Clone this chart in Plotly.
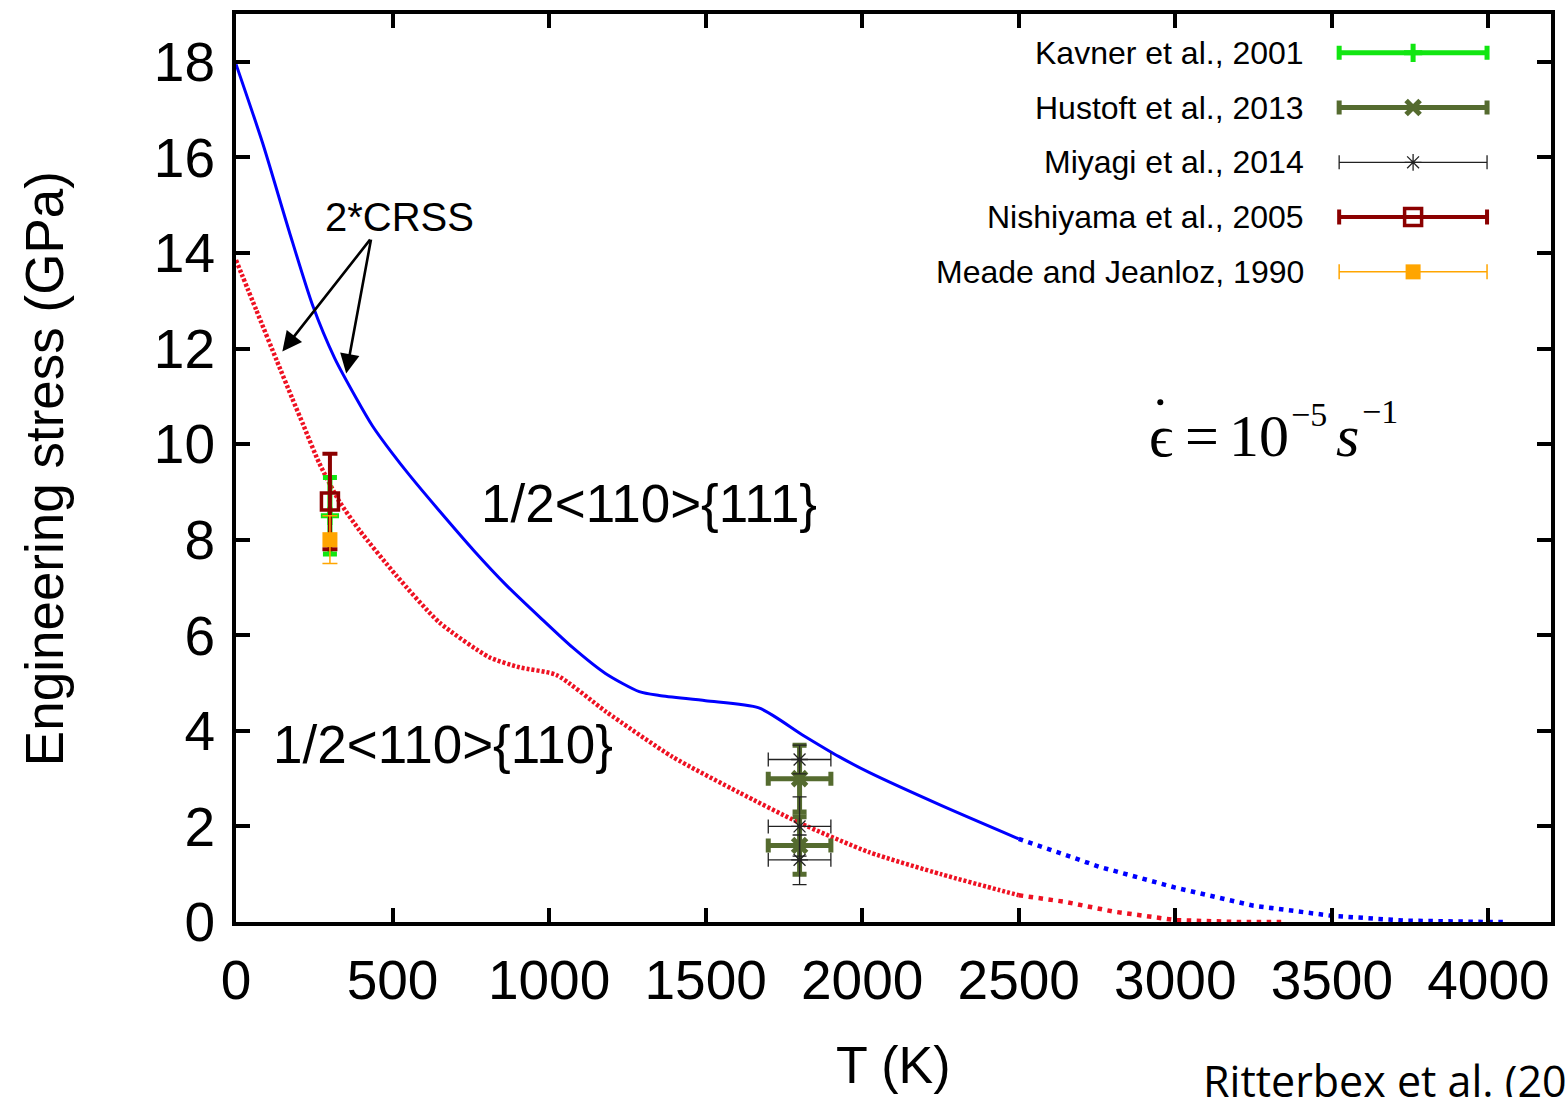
import plotly.graph_objects as go

# ---- 2*CRSS model curves (GPa) versus temperature (K) ----
# 1/2<110>{111}: computed range, then extrapolation
T_111 = [0, 85, 170, 245, 315, 385, 436, 500, 554, 650, 760, 863, 970, 1074,
         1180, 1288, 1352, 1500, 1670, 1808, 1926, 2022, 2252, 2500]
S_111 = [17.95, 16.3, 14.45, 12.9, 11.8, 10.95, 10.38, 9.8, 9.35, 8.6, 7.77, 7.05,
         6.38, 5.75, 5.2, 4.82, 4.74, 4.63, 4.48, 3.92, 3.46, 3.13, 2.44, 1.74]
T_111_ext = [2500, 2760, 3000, 3250, 3500, 3730, 4000, 4050]
S_111_ext = [1.74, 1.15, 0.72, 0.34, 0.13, 0.03, 0.0, 0.0]

# 1/2<110>{110}: computed range, then extrapolation
T_110 = [0, 65, 130, 180, 215, 266, 330, 394, 512, 649, 809, 905, 1023, 1182,
         1393, 1607, 1798, 2022, 2252, 2437, 2500]
S_110 = [13.85, 12.8, 11.75, 10.95, 10.4, 9.6, 8.8, 8.2, 7.25, 6.27, 5.54, 5.33,
         5.17, 4.4, 3.46, 2.71, 2.08, 1.46, 1.0, 0.67, 0.56]
T_110_ext = [2500, 2650, 2800, 3000, 3200, 3340]
S_110_ext = [0.56, 0.42, 0.22, 0.04, 0.0, 0.0]

# ---- experimental data ----
kavner_T, kavner_S, kavner_dS = [300], [8.5], [0.8]
hustoft_T, hustoft_S = [1800, 1800], [3.0, 1.6]
hustoft_dS, hustoft_dT = [0.7, 0.6], [100, 100]
miyagi_T, miyagi_S = [1800, 1800, 1800], [3.4, 2.0, 1.3]
miyagi_dS, miyagi_dT = [0.3, 0.62, 0.52], [100, 100, 100]
nishiyama_T, nishiyama_S, nishiyama_dS = [300], [8.8], [1.0]
meade_T, meade_S, meade_dS = [300], [8.0], [0.5]

x_ticks = [0, 500, 1000, 1500, 2000, 2500, 3000, 3500, 4000]
y_ticks = [0, 2, 4, 6, 8, 10, 12, 14, 16, 18]

legend_labels = ["Kavner et al., 2001", "Hustoft et al., 2013", "Miyagi et al., 2014",
                 "Nishiyama et al., 2005", "Meade and Jeanloz, 1990"]

# ---- styles ----
BLUE = "#0000ff"
RED = "#ee1122"
GREEN = "#11e611"
OLIVE = "#556b2f"
DARKRED = "#8b0000"
ORANGE = "#ffa500"
BLACK = "#222222"
SANS = "Liberation Sans, Arial, sans-serif"
SERIF = "Liberation Serif, Times New Roman, serif"

# page / plot-area geometry in pixels
W, H = 1565, 1097
L, R, TOP, BOT = 236, 1552, 10, 922


def px(x):
    return (x - L) / (R - L)


def py(y):
    return (BOT - y) / (BOT - TOP)


styles = {
    "Kavner et al., 2001": dict(color=GREEN, thick=5, cap=7,
                                marker=dict(symbol="cross-thin", size=13, color=GREEN,
                                            line=dict(width=5, color=GREEN))),
    "Hustoft et al., 2013": dict(color=OLIVE, thick=5, cap=7,
                                 marker=dict(symbol="x-thin", size=14, color=OLIVE,
                                             line=dict(width=5, color=OLIVE))),
    "Miyagi et al., 2014": dict(color=BLACK, thick=1.3, cap=7,
                                marker=dict(symbol="asterisk", size=14, color=BLACK,
                                            line=dict(width=1.3, color=BLACK))),
    "Nishiyama et al., 2005": dict(color=DARKRED, thick=4, cap=7.5,
                                   marker=dict(symbol="square-open", size=17, color=DARKRED,
                                               line=dict(width=3.5, color=DARKRED))),
    "Meade and Jeanloz, 1990": dict(color=ORANGE, thick=1.5, cap=7.5,
                                    marker=dict(symbol="square", size=15, color=ORANGE,
                                                line=dict(width=0))),
}

fig = go.Figure()

# model curves
fig.add_trace(go.Scatter(x=T_111, y=S_111, mode="lines",
                         line=dict(color=BLUE, width=3, shape="spline", smoothing=0.7)))
fig.add_trace(go.Scatter(x=T_111_ext, y=S_111_ext, mode="lines",
                         line=dict(color=BLUE, width=4.5, dash="4.5px,5.5px")))
fig.add_trace(go.Scatter(x=T_110, y=S_110, mode="lines",
                         line=dict(color=RED, width=4.5, dash="3px,2px",
                                   shape="spline", smoothing=0.6)))
fig.add_trace(go.Scatter(x=T_110_ext, y=S_110_ext, mode="lines",
                         line=dict(color=RED, width=4.5, dash="4.5px,5.5px")))


def err(vals, st):
    return dict(type="data", array=vals, color=st["color"],
                thickness=st["thick"], width=st["cap"])


data_sets = [
    ("Kavner et al., 2001", kavner_T, kavner_S, kavner_dS, None),
    ("Hustoft et al., 2013", hustoft_T, hustoft_S, hustoft_dS, hustoft_dT),
    ("Miyagi et al., 2014", miyagi_T, miyagi_S, miyagi_dS, miyagi_dT),
    ("Nishiyama et al., 2005", nishiyama_T, nishiyama_S, nishiyama_dS, None),
    ("Meade and Jeanloz, 1990", meade_T, meade_S, meade_dS, None),
]
for name, tx, sy, dsy, dtx in data_sets:
    st = styles[name]
    kw = dict(error_y=err(dsy, st))
    if dtx is not None:
        kw["error_x"] = err(dtx, st)
    fig.add_trace(go.Scatter(x=tx, y=sy, mode="markers", name=name,
                             marker=st["marker"], **kw))

# key: sample error bar with marker, label to its left (pixel coordinates)
row_y0, row_dy = 49, 55
sample_cx, sample_half, text_right = 1414, 74, 1307
annotations = []
for i, name in enumerate(legend_labels):
    st = styles[name]
    yy = row_y0 + i * row_dy
    fig.add_trace(go.Scatter(x=[sample_cx], y=[yy], xaxis="x2", yaxis="y2",
                             mode="markers", marker=st["marker"],
                             error_x=err([sample_half], st), cliponaxis=False))
    annotations.append(dict(x=text_right, y=yy, xref="x2", yref="y2", text=name,
                            showarrow=False, xanchor="right", yanchor="middle",
                            font=dict(family=SANS, size=32, color="black")))

# curve labels
annotations += [
    dict(x=1320, y=8.75, xref="x", yref="y", text="1/2<110>{111}", showarrow=False,
         font=dict(family=SANS, size=53, color="black")),
    dict(x=661, y=3.71, xref="x", yref="y", text="1/2<110>{110}", showarrow=False,
         font=dict(family=SANS, size=53, color="black")),
    dict(x=522, y=14.75, xref="x", yref="y", text="2*CRSS", showarrow=False,
         font=dict(family=SANS, size=40, color="black")),
]
# arrows from the 2*CRSS label to each curve
for hx, hy in [(148, 11.94), (352, 11.48)]:
    annotations.append(dict(x=hx, y=hy, xref="x", yref="y", ax=432, ay=14.31,
                            axref="x", ayref="y", text="", showarrow=True,
                            arrowhead=2, arrowsize=1.5, arrowwidth=2.6,
                            arrowcolor="black", standoff=0, startstandoff=0))

# strain-rate label: dotted epsilon = 10^-5 s^-1
serif60 = dict(family=SERIF, size=60, color="black")
serif34 = dict(family=SERIF, size=34, color="black")
annotations += [
    dict(x=1148, y=434, xref="x2", yref="y2", text="ϵ", showarrow=False,
         xanchor="left", yanchor="middle", font=serif60),
    dict(x=1184, y=434, xref="x2", yref="y2", text="=", showarrow=False,
         xanchor="left", yanchor="middle", font=serif60),
    dict(x=1228, y=434, xref="x2", yref="y2", text="10", showarrow=False,
         xanchor="left", yanchor="middle", font=serif60),
    dict(x=1290, y=412, xref="x2", yref="y2", text="−5", showarrow=False,
         xanchor="left", yanchor="middle", font=serif34),
    dict(x=1335, y=434, xref="x2", yref="y2", text="<i>s</i>", showarrow=False,
         xanchor="left", yanchor="middle", font=serif60),
    dict(x=1361, y=409, xref="x2", yref="y2", text="−1", showarrow=False,
         xanchor="left", yanchor="middle", font=serif34),
]
shapes = [dict(type="circle", xref="paper", yref="paper",
               x0=px(1158), x1=px(1164), y0=py(397), y1=py(403),
               fillcolor="black", line=dict(width=0))]

# axis titles and source note (paper coordinates)
annotations += [
    dict(x=px((L + R) / 2), y=py(1066), xref="paper", yref="paper", text="T (K)",
         showarrow=False, xanchor="center", yanchor="middle",
         font=dict(family=SANS, size=52, color="black")),
    dict(x=px(45), y=py(467), xref="paper", yref="paper", text="Engineering stress (GPa)",
         showarrow=False, textangle=-90, xanchor="center", yanchor="middle",
         font=dict(family=SANS, size=53, color="black")),
    dict(x=px(1202), y=py(1081), xref="paper", yref="paper", text="Ritterbex et al. (2015)",
         showarrow=False, xanchor="left", yanchor="middle",
         font=dict(family="Open Sans, Lato, sans-serif", size=43, color="black")),
]

axis_common = dict(ticks="inside", ticklen=14, tickwidth=4, tickcolor="black",
                   showline=True, linewidth=4, linecolor="black", mirror="allticks",
                   showgrid=False, zeroline=False,
                   tickfont=dict(family=SANS, size=55, color="black"))

fig.update_layout(
    width=W, height=H,
    margin=dict(l=L, r=W - R, t=TOP, b=H - BOT),
    plot_bgcolor="white", paper_bgcolor="white",
    showlegend=False,
    xaxis=dict(range=[0, 4200], tickvals=x_ticks, ticklabelstandoff=7, **axis_common),
    yaxis=dict(range=[0, 19], tickvals=y_ticks, ticklabelstandoff=6, **axis_common),
    xaxis2=dict(range=[L, R], overlaying="x", visible=False, fixedrange=True),
    yaxis2=dict(range=[BOT, TOP], overlaying="y", visible=False, fixedrange=True),
    annotations=annotations,
    shapes=shapes,
)

fig.write_html("out.html")
